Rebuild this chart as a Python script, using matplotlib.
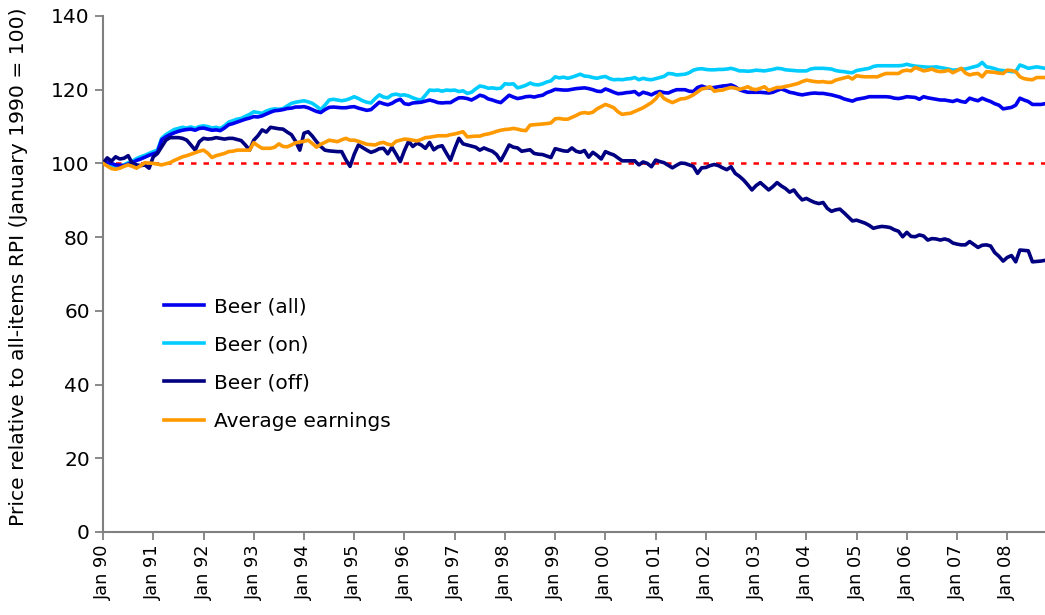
import matplotlib
matplotlib.use("Agg")
import matplotlib.pyplot as plt
import numpy as np

# monthly values, Jan 1990 - Oct 2008 (one row per year)
beer_all = [
    100.0, 100.3, 100.0, 99.6, 99.5, 99.4, 99.8, 100.2, 100.8, 101.2, 101.7, 102.2,
    102.6, 103.0, 106.4, 107.2, 107.8, 108.3, 108.7, 109.0, 109.2, 109.3, 109.0, 109.5,
    109.6, 109.3, 109.0, 109.1, 108.9, 109.6, 110.5, 110.8, 111.2, 111.6, 112.0, 112.3,
    112.7, 112.6, 112.9, 113.4, 113.9, 114.3, 114.4, 114.6, 114.9, 115.0, 115.3, 115.3,
    115.4, 115.1, 114.6, 114.1, 113.8, 114.6, 115.2, 115.3, 115.2, 115.1, 115.1, 115.3,
    115.4, 115.0, 114.7, 114.4, 114.6, 115.6, 116.6, 116.2, 115.9, 116.3, 117.0, 117.4,
    116.2, 116.0, 116.4, 116.5, 116.6, 116.9, 117.2, 116.9, 116.5, 116.4, 116.5, 116.5,
    117.2, 117.8, 117.8, 117.6, 117.2, 117.8, 118.5, 118.2, 117.5, 117.2, 116.8, 116.5,
    117.5, 118.5, 118.0, 117.6, 117.8, 118.1, 118.2, 118.0, 118.3, 118.5, 119.2, 119.6,
    120.1, 120.0, 119.9, 119.9, 120.1, 120.3, 120.4, 120.5, 120.3, 120.0, 119.6, 119.5,
    120.2, 119.8, 119.3, 118.9, 119.0, 119.2, 119.3, 119.5, 118.6, 119.3, 119.0, 118.6,
    119.2, 119.5, 119.2, 119.1, 119.6, 120.0, 120.0, 120.0, 119.6, 119.5, 120.6, 121.0,
    120.6, 120.5, 120.6, 120.8, 121.0, 121.1, 121.3, 120.8, 120.0, 119.6, 119.3, 119.3,
    119.3, 119.3, 119.2, 119.1, 119.3, 119.8, 120.2, 119.8, 119.3, 119.1, 118.8, 118.6,
    118.8, 119.0, 119.1, 119.0, 119.0, 118.8, 118.6, 118.3, 118.0, 117.5, 117.2, 116.9,
    117.4, 117.6, 117.8, 118.1, 118.1, 118.1, 118.1, 118.1, 118.0, 117.7, 117.6, 117.8,
    118.1, 118.0, 117.9, 117.4, 118.1, 117.8, 117.6, 117.4, 117.2, 117.2, 117.0, 116.8,
    117.2, 116.8, 116.6, 117.7, 117.3, 117.0, 117.7, 117.2, 116.8, 116.2, 115.8, 114.8,
    115.0, 115.2, 115.8, 117.7, 117.2, 116.8, 116.0, 116.0, 116.0, 116.2,
]

beer_on = [
    100.0, 99.6, 99.2, 99.0, 99.3, 99.6, 100.2, 100.6, 101.3, 101.8, 102.2, 102.7,
    103.2, 103.6, 106.8, 107.8, 108.5, 109.2, 109.5, 109.8, 109.6, 109.9, 109.5, 110.0,
    110.2, 110.0, 109.6, 109.8, 109.5, 110.2, 111.2, 111.6, 112.0, 112.2, 112.8, 113.3,
    114.0, 113.8, 113.6, 114.2, 114.6, 114.8, 114.7, 114.9, 115.6, 116.3, 116.6, 116.8,
    117.0, 116.7, 116.3, 115.5, 114.6, 115.8, 117.2, 117.4, 117.2, 117.0, 117.2, 117.6,
    118.1, 117.6, 117.0, 116.6, 116.4, 117.6, 118.6, 118.0, 117.8, 118.6, 118.8, 118.5,
    118.6, 118.3, 117.8, 117.4, 117.2, 118.5, 119.9, 119.8, 119.9, 119.6, 119.9, 119.8,
    119.9, 119.5, 119.7, 119.0, 119.3, 120.2, 121.0, 120.8, 120.4, 120.5, 120.3, 120.4,
    121.6, 121.5, 121.6, 120.5, 120.8, 121.2, 121.8, 121.4, 121.3, 121.6, 122.1, 122.4,
    123.5, 123.2, 123.4, 123.1, 123.4, 123.8, 124.2, 123.7, 123.6, 123.3, 123.1, 123.4,
    123.6, 123.0, 122.7, 122.8, 122.7, 122.9, 123.0, 123.3, 122.7, 123.1, 122.8, 122.7,
    123.0, 123.3, 123.6, 124.4, 124.3, 124.0, 124.1, 124.2, 124.6, 125.3, 125.6, 125.7,
    125.5, 125.4, 125.4, 125.5, 125.5, 125.6, 125.8, 125.5, 125.1, 125.1, 125.0, 125.1,
    125.3, 125.2, 125.1, 125.3, 125.5, 125.8, 125.7, 125.4, 125.3, 125.2, 125.1, 125.1,
    125.1, 125.6, 125.8, 125.8, 125.8, 125.7, 125.6, 125.2, 125.0, 124.9, 124.7, 124.6,
    125.2, 125.4, 125.6, 125.8, 126.3, 126.5, 126.5, 126.5, 126.5, 126.5, 126.5, 126.6,
    126.9, 126.6, 126.4, 126.3, 126.2, 126.1, 126.1, 126.2, 126.0, 125.8, 125.6, 125.3,
    125.4, 125.6, 125.6, 125.9, 126.2, 126.5, 127.4, 126.2, 126.0, 125.7, 125.3, 125.2,
    125.1, 124.9, 124.9, 126.7, 126.3, 125.8, 126.0, 126.2, 126.0, 125.8,
]

beer_off = [
    100.0, 101.5, 100.6, 101.8, 101.2, 101.4, 102.1, 100.0, 99.6, 99.4, 99.6, 98.7,
    101.8, 102.7, 104.5, 106.3, 107.0, 107.0, 107.0, 106.8, 106.3, 105.0, 103.6, 105.9,
    106.8, 106.6, 106.7, 107.0, 106.8, 106.6, 106.8, 106.8, 106.5, 106.2, 105.0, 103.6,
    106.3, 107.5, 109.1, 108.5, 109.8, 109.6, 109.4, 109.3, 108.5, 107.8, 106.0, 103.6,
    108.2, 108.6, 107.4, 105.9, 104.6, 103.6, 103.4, 103.3, 103.2, 103.2, 101.0, 99.2,
    102.5, 105.0, 104.3, 103.6, 103.0, 103.4, 104.0, 104.1, 102.6, 104.4, 102.5, 100.5,
    103.5, 106.0, 104.6, 105.5, 105.0, 104.1, 105.7, 103.7, 104.5, 104.8, 102.8, 100.9,
    104.0, 106.8, 105.3, 105.0, 104.7, 104.4, 103.6, 104.2, 103.7, 103.3, 102.4, 100.7,
    102.8, 105.0, 104.4, 104.2, 103.3, 103.5, 103.7, 102.7, 102.5, 102.4, 102.0, 101.6,
    104.0, 103.7, 103.4, 103.3, 104.2, 103.3, 103.0, 103.5, 101.7, 103.0, 102.2, 101.2,
    103.2, 102.7, 102.3, 101.5, 100.7, 100.7, 100.7, 100.7, 99.6, 100.4, 100.0, 99.1,
    100.9, 100.5, 100.2, 99.5, 98.8, 99.5, 100.1, 100.0, 99.6, 99.2, 97.3, 98.8,
    98.9, 99.4, 99.7, 99.4, 98.8, 98.3, 99.1, 97.3, 96.5, 95.5, 94.2, 92.8,
    94.0, 94.8, 93.8, 92.8, 93.7, 94.8, 93.9, 93.2, 92.2, 92.8, 91.3, 90.1,
    90.5, 89.9, 89.4, 89.1, 89.4, 87.8, 87.0, 87.4, 87.6, 86.6, 85.5, 84.4,
    84.6, 84.2, 83.8, 83.2, 82.4, 82.7, 82.9, 82.8, 82.6, 82.0, 81.6, 80.1,
    81.3, 80.2, 80.1, 80.6, 80.3, 79.2, 79.6, 79.5, 79.2, 79.5, 79.2, 78.4,
    78.1, 77.9, 77.9, 78.8, 78.0, 77.2, 77.8, 77.9, 77.6, 75.8, 74.8, 73.5,
    74.5, 75.0, 73.3, 76.5, 76.4, 76.3, 73.3, 73.4, 73.5, 73.7,
]

earnings = [
    100.0, 99.3, 98.6, 98.4, 98.7, 99.2, 99.6, 99.2, 98.7, 99.4, 100.2, 100.1,
    100.0, 99.8, 99.6, 99.9, 100.2, 100.8, 101.3, 101.8, 102.1, 102.5, 102.9, 103.3,
    103.6, 102.8, 101.6, 102.1, 102.4, 102.7, 103.2, 103.3, 103.6, 103.6, 103.6, 103.6,
    105.6, 104.8, 104.1, 104.1, 104.1, 104.4, 105.3, 104.6, 104.5, 105.0, 105.6, 105.8,
    106.0, 106.3, 105.4, 104.4, 105.2, 105.7, 106.3, 106.1, 105.9, 106.4, 106.8, 106.3,
    106.3, 106.0, 105.6, 105.2, 105.1, 105.0, 105.5, 105.7, 105.2, 105.0, 106.0, 106.3,
    106.6, 106.5, 106.3, 106.1, 106.5, 107.0, 107.1, 107.3, 107.5, 107.5, 107.5, 107.8,
    108.0, 108.3, 108.6, 107.2, 107.3, 107.4, 107.4, 107.8, 108.0, 108.3, 108.7, 109.0,
    109.2, 109.3, 109.5, 109.3, 109.0, 108.9, 110.4, 110.5, 110.6, 110.7, 110.8, 111.0,
    112.1, 112.2, 112.0, 112.0, 112.5, 113.0, 113.6, 113.8, 113.6, 113.9, 114.8, 115.4,
    116.0, 115.6, 115.1, 114.0, 113.3, 113.5, 113.6, 114.1, 114.6, 115.1, 115.8, 116.5,
    117.5, 119.0, 117.6, 117.0, 116.5, 117.0, 117.5, 117.6, 118.0, 118.6, 119.4, 120.2,
    120.4, 120.8, 119.6, 119.8, 119.9, 120.3, 120.6, 120.4, 120.1, 120.4, 120.8, 120.2,
    120.0, 120.4, 120.8, 119.8, 120.2, 120.6, 120.6, 120.9, 121.1, 121.4, 121.7, 122.2,
    122.6, 122.4, 122.2, 122.1, 122.2, 122.0, 122.0, 122.6, 122.9, 123.2, 123.5, 122.9,
    123.8, 123.6, 123.5, 123.5, 123.5, 123.5, 124.0, 124.4, 124.4, 124.4, 124.4, 125.1,
    125.3, 125.1, 126.0, 125.6, 125.1, 125.3, 125.6, 125.1, 124.9, 125.0, 125.3, 124.6,
    125.2, 125.8, 124.5, 124.0, 124.3, 124.4, 123.5, 124.9, 124.8, 124.7, 124.5, 124.4,
    125.3, 125.2, 124.9, 123.5, 123.0, 122.8, 122.7, 123.3, 123.3, 123.3,
]

years = ["90", "91", "92", "93", "94", "95", "96", "97", "98", "99",
         "00", "01", "02", "03", "04", "05", "06", "07", "08"]
tick_labels = ["Jan " + y for y in years]

plt.rcParams['font.family'] = ['DejaVu Sans']
plt.rcParams['font.size'] = 14.5

months = np.arange(len(beer_all))

fig = plt.figure(figsize=(10.45, 6.15), dpi=100)
ax = fig.add_axes([0.0986, 0.135, 0.9014, 0.839])

ax.axhline(100, color='#ff0000', lw=1.8, ls=(0, (2.2, 2.8)), zorder=1)
ax.plot(months, beer_all, color='#0000ee', lw=2.6, label='Beer (all)', zorder=3)
ax.plot(months, beer_on, color='#00ccff', lw=2.6, label='Beer (on)', zorder=2)
ax.plot(months, beer_off, color='#000080', lw=2.6, label='Beer (off)', zorder=3)
ax.plot(months, earnings, color='#ff9900', lw=2.6, label='Average earnings', zorder=4)

ax.set_xlim(0, len(beer_all) - 1)
ax.set_ylim(0, 140)
ax.set_yticks(np.arange(0, 141, 20))
ax.set_xticks(np.arange(0, 12 * len(years), 12))
ax.set_xticklabels(tick_labels, rotation=90, fontsize=12.8)

ax.set_ylabel('Price relative to all-items RPI (January 1990 = 100)', fontsize=14.6)
ax.yaxis.set_label_coords(-0.080, 0.5145)

for side in ['top', 'right']:
    ax.spines[side].set_visible(False)
for side in ['left', 'bottom']:
    ax.spines[side].set_color('#808080')
    ax.spines[side].set_linewidth(1.5)
ax.tick_params(axis='both', direction='out', length=6, width=1.3, color='#808080')
ax.tick_params(axis='x', pad=3)

ax.legend(loc='upper left', bbox_to_anchor=(0.045, 0.49), frameon=False,
          handlelength=2.0, handletextpad=0.5, labelspacing=0.95)

fig.savefig('out.png', dpi=100)
